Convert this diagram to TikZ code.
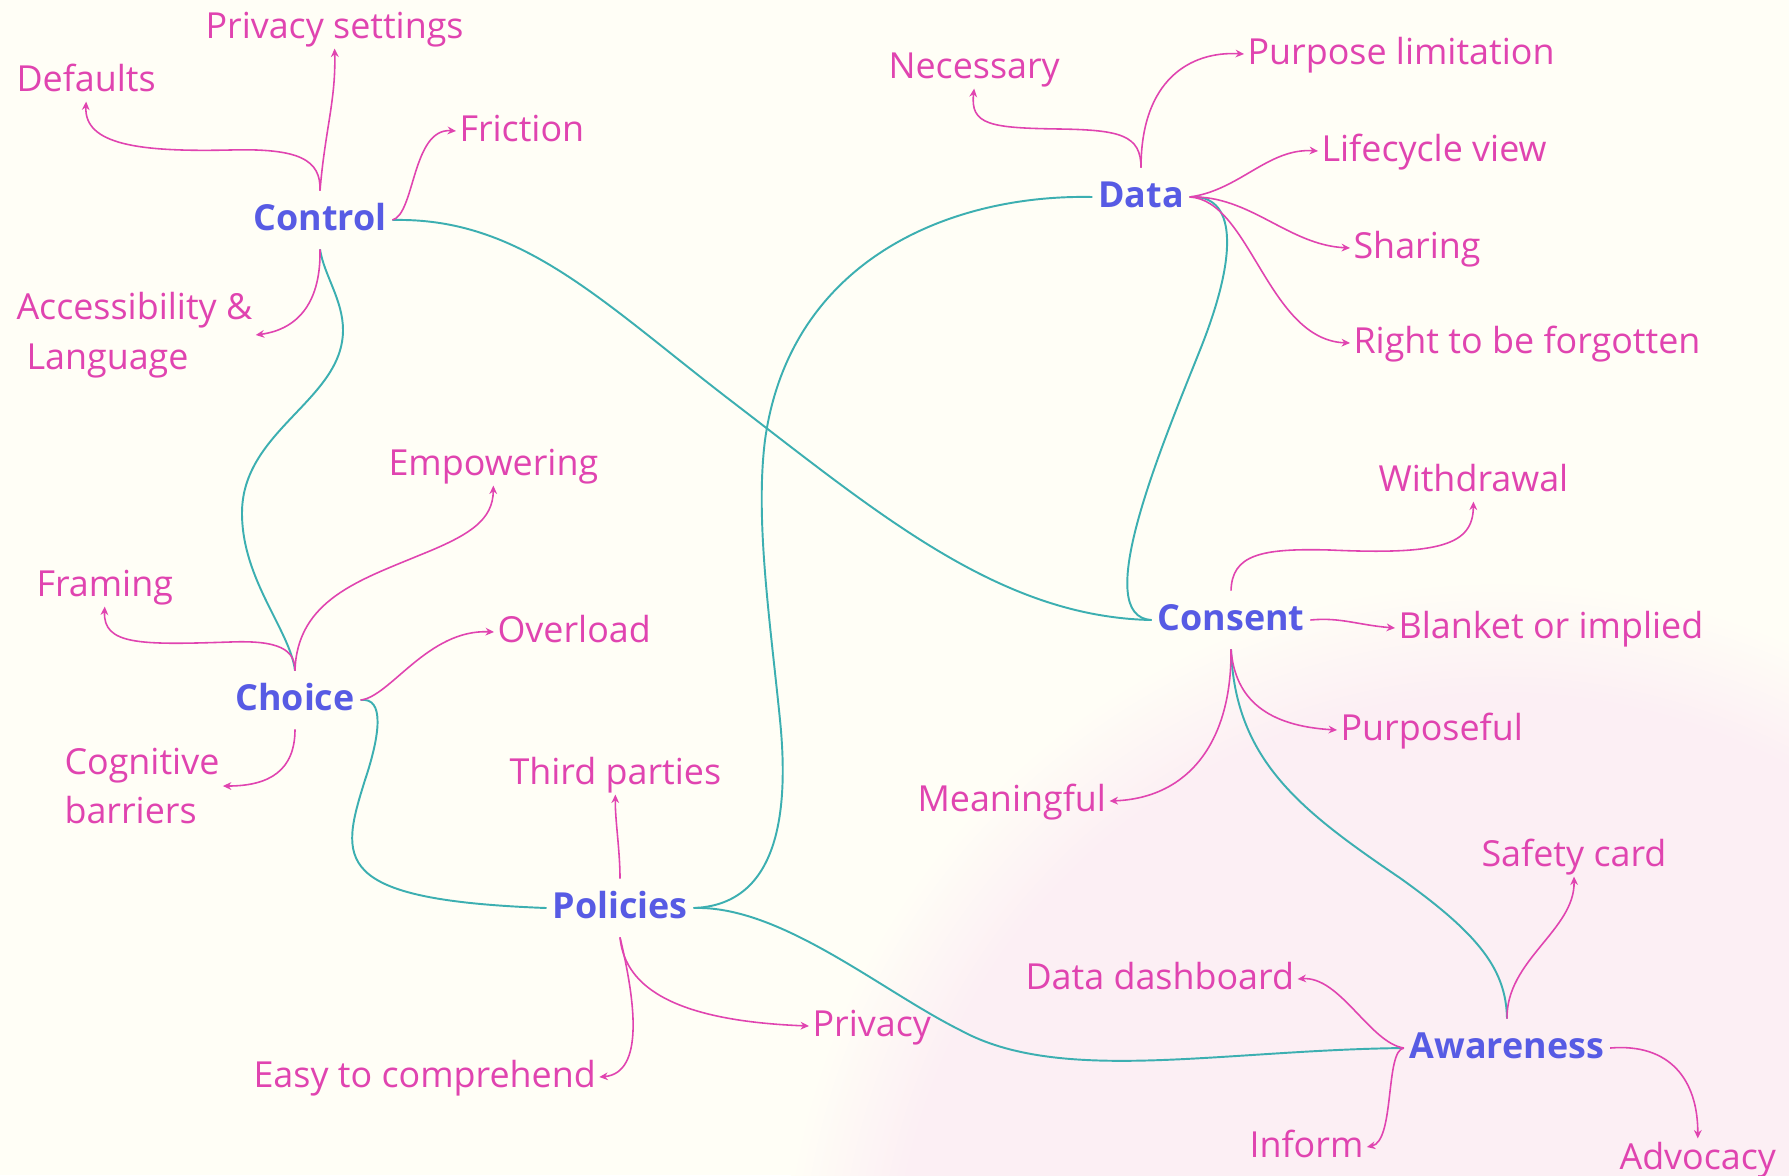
\documentclass[tikz,border=0pt]{standalone}
\usepackage{fontspec}
\setmainfont{Open Sans}
\usetikzlibrary{arrows.meta}

\definecolor{bgcream}{HTML}{FFFEF6}
\definecolor{bgpink}{HTML}{FCEFF4}
\definecolor{hubblue}{HTML}{575BE4}
\definecolor{leafpink}{HTML}{E044B0}
\definecolor{linkteal}{HTML}{3CAFB1}
\definecolor{titleviolet}{HTML}{8B50F6}

% soft pink wash in the lower right corner (25bp = rim of the shaded circle)
\pgfdeclareradialshading{pinkblob}{\pgfpoint{0bp}{0bp}}{%
  color(0bp)=(bgpink); color(21bp)=(bgpink); color(25bp)=(bgcream); color(50bp)=(bgcream)}

\begin{document}
\begin{tikzpicture}[x=0.01cm, y=-0.01cm,
  hub/.style={font=\bfseries\fontsize{10.2pt}{14.2pt}\selectfont, text=hubblue,
    inner xsep=1.5pt, inner ysep=3.3pt, text height=7.7pt, text depth=2pt},
  leaf/.style={font=\fontsize{10.2pt}{14.2pt}\selectfont, text=leafpink,
    inner sep=0pt, outer sep=1pt, anchor=west, text height=7.7pt, text depth=2pt},
  leaftwo/.style={font=\fontsize{10.2pt}{14.2pt}\selectfont, text=leafpink,
    inner sep=0pt, outer sep=1pt, anchor=west, align=left},
  link/.style={draw=linkteal, line width=0.55pt},
  branch/.style={draw=leafpink, line width=0.45pt, -{Stealth[length=2.4pt,width=2.2pt]}},
]
\useasboundingbox (0,0) rectangle (1789,1175);
\clip (0,0) rectangle (1789,1175);

% background
\fill[bgcream] (0,0) rectangle (1789,1175);
\shade[shading=pinkblob] (1500,1300) circle (720);

% heading, mostly above the frame
\node[font=\fontsize{21.8pt}{26pt}\selectfont, text=titleviolet, anchor=base, inner sep=0pt]
  (title) at (894.5,-19) {Concept mapping};

% hubs
\node[hub] (ctl) at (320,220)  {Control};
\node[hub] (dat) at (1141,197) {Data};
\node[hub] (cho) at (295,700)  {Choice};
\node[hub] (con) at (1231,620) {Consent};
\node[hub] (pol) at (620,908)  {Policies};
\node[hub] (awa) at (1507,1048) {Awareness};

% leaves
\node[leaf] (pset)  at (202,28)   {Privacy settings};
\node[leaf] (def)   at (13,81)    {Defaults};
\node[leaf] (fric)  at (456,131)  {Friction};
\node[leaftwo] (acc) at (13,335)  {Accessibility \&\\\hspace*{0.1cm}Language};
\node[leaf] (nec)   at (885,68)   {Necessary};
\node[leaf] (purp)  at (1244,54)  {Purpose limitation};
\node[leaf] (life)  at (1318,151) {Lifecycle view};
\node[leaf] (shar)  at (1350,248) {Sharing};
\node[leaf] (rtbf)  at (1350,343) {Right to be forgotten};
\node[leaf] (emp)   at (385,465)  {Empowering};
\node[leaf] (fram)  at (33,586)   {Framing};
\node[leaf] (over)  at (494,632)  {Overload};
\node[leaftwo] (cog) at (61,786)  {Cognitive\\barriers};
\node[leaf] (third) at (506,774)  {Third parties};
\node[leaf] (withd) at (1375,481) {Withdrawal};
\node[leaf] (blank) at (1395,628) {Blanket or implied};
\node[leaf] (purpf) at (1337,730) {Purposeful};
\node[leaf] (mean)  at (914,801)  {Meaningful};
\node[leaf] (safe)  at (1478,856) {Safety card};
\node[leaf] (dash)  at (1022,979) {Data dashboard};
\node[leaf] (priv)  at (809,1026) {Privacy};
\node[leaf] (easy)  at (250,1077) {Easy to comprehend};
\node[leaf] (inf)   at (1246,1147) {Inform};
\node[leaf] (adv)   at (1616,1159) {Advocacy};

% links between hubs
\draw[link] (ctl.south) .. controls (324,275) and (343,300) .. (343,330)
  .. controls (343,400) and (242,430) .. (242,513)
  .. controls (242,580) and (290,630) .. (cho.north);
\draw[link] (ctl.east) .. controls (520,217) and (600,300) .. (730,400)
  .. controls (880,515) and (1000,617) .. (con.west);
\draw[link] (pol.east) .. controls (775,905) and (790,820) .. (780,720)
  .. controls (770,620) and (755,520) .. (765,440)
  .. controls (790,260) and (950,194) .. (dat.west);
\draw[link] (dat.east) .. controls (1235,194) and (1240,250) .. (1200,350)
  .. controls (1160,450) and (1090,617) .. (con.west);
\draw[link] (cho.east) .. controls (385,697) and (380,735) .. (365,780)
  .. controls (340,860) and (330,900) .. (pol.west);
\draw[link] (con.south) .. controls (1235,760) and (1300,810) .. (1400,878)
  .. controls (1480,935) and (1506,970) .. (awa.north);
\draw[link] (pol.east) .. controls (780,905) and (880,990) .. (960,1030)
  .. controls (1060,1085) and (1220,1050) .. (awa.west);

% Control branches
\draw[branch] (ctl.north) .. controls (321,160) and (300,148) .. (230,150)
  .. controls (140,152) and (84,145) .. (def.south);
\draw[branch] (ctl.north) .. controls (325,130) and (336,100) .. (pset.south);
\draw[branch] (ctl.east) .. controls (415,214) and (412,128) .. (fric.west);
\draw[branch] (ctl.south) .. controls (321,300) and (300,329) .. (acc.east);

% Data branches
\draw[branch] (dat.north) .. controls (1141,135) and (1120,130) .. (1060,129)
  .. controls (990,128) and (970,125) .. (nec.south);
\draw[branch] (dat.north) .. controls (1141,80) and (1190,51) .. (purp.west);
\draw[branch] (dat.east) .. controls (1240,190) and (1268,148) .. (life.west);
\draw[branch] (dat.east) .. controls (1250,195) and (1288,245) .. (shar.west);
\draw[branch] (dat.east) .. controls (1250,200) and (1268,340) .. (rtbf.west);

% Choice branches
\draw[branch] (cho.north) .. controls (295,650) and (280,640) .. (230,642)
  .. controls (140,645) and (103,645) .. (fram.south);
\draw[branch] (cho.north) .. controls (297,600) and (360,580) .. (420,555)
  .. controls (470,535) and (493,520) .. (emp.south);
\draw[branch] (cho.east) .. controls (390,697) and (428,629) .. (over.west);
\draw[branch] (cho.south) .. controls (295,770) and (270,786) .. (cog.east);

% Consent branches
\draw[branch] (con.north) .. controls (1232,555) and (1260,548) .. (1330,550)
  .. controls (1440,555) and (1473,545) .. (withd.south);
\draw[branch] (con.east) .. controls (1340,617) and (1358,625) .. (blank.west);
\draw[branch] (con.south) .. controls (1235,700) and (1268,726) .. (purpf.west);
\draw[branch] (con.south) .. controls (1232,740) and (1190,798) .. (mean.east);

% Policies branches
\draw[branch] (pol.north) .. controls (620,850) and (615,820) .. (third.south);
\draw[branch] (pol.south) .. controls (625,990) and (680,1021) .. (priv.west);
\draw[branch] (pol.south) .. controls (635,1000) and (645,1073) .. (easy.east);

% Awareness branches
\draw[branch] (awa.north) .. controls (1506,960) and (1575,930) .. (safe.south);
\draw[branch] (awa.west) .. controls (1370,1043) and (1340,976) .. (dash.east);
\draw[branch] (awa.west) .. controls (1385,1050) and (1395,1141) .. (inf.east);
\draw[branch] (awa.east) .. controls (1670,1043) and (1698,1080) .. (adv.north);
\end{tikzpicture}
\end{document}
